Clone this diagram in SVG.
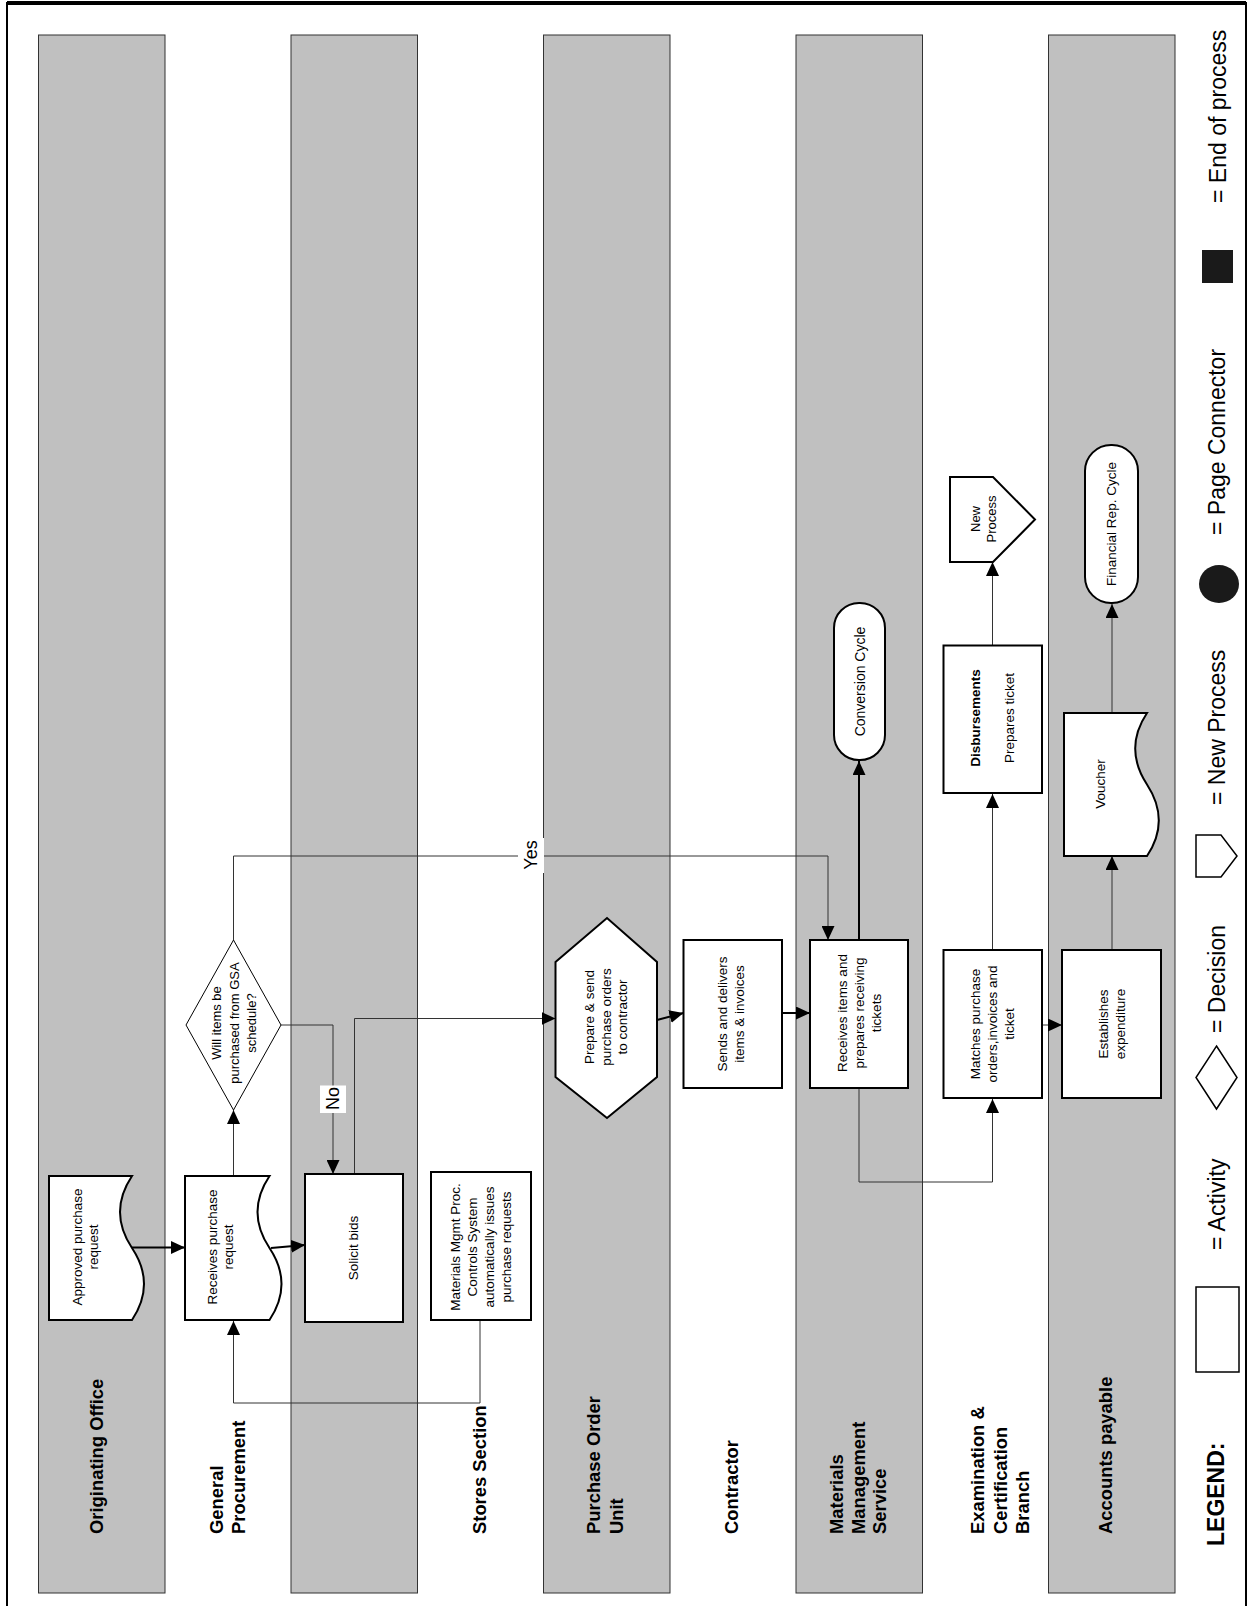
<svg xmlns="http://www.w3.org/2000/svg" width="1249" height="1606" viewBox="0 0 1249 1606">
<defs>
<style>
.band{fill:#c0c0c0;stroke:#333;stroke-width:1}
.box{fill:#fff;stroke:#000;stroke-width:2}
.t{font-family:"Liberation Sans",Arial,sans-serif;font-size:13.5px;fill:#000}
.lab{font-family:"Liberation Sans",Arial,sans-serif;font-size:18.4px;font-weight:bold;fill:#000}
.leg{font-family:"Liberation Sans",Arial,sans-serif;font-size:23px;fill:#000}
.c1{fill:none;stroke:#333;stroke-width:1}
.c2{fill:none;stroke:#000;stroke-width:2}
.lbl{font-family:"Liberation Sans",Arial,sans-serif;font-size:18px;fill:#000}
</style>
<marker id="ah" viewBox="0 0 14 13" refX="14" refY="6.5" markerWidth="14" markerHeight="13" markerUnits="userSpaceOnUse" orient="auto">
<path d="M0,0 L14,6.5 L0,13 Z" fill="#000"/>
</marker>
</defs>
<rect x="0" y="0" width="1249" height="1606" fill="#fff"/>
<g id="border">
<path d="M7,1606 V3 H1246 V1606" fill="none" stroke="#000" stroke-width="2"/>
<line x1="7" y1="3" x2="1246" y2="3" stroke="#000" stroke-width="4"/>
</g>
<g id="lanes">
<rect class="band" x="38.5" y="35" width="126.5" height="1558"/>
<rect class="band" x="291" y="35" width="126.5" height="1558"/>
<rect class="band" x="543.5" y="35" width="126.5" height="1558"/>
<rect class="band" x="796" y="35" width="126.5" height="1558"/>
<rect class="band" x="1048.5" y="35" width="126.5" height="1558"/>
</g>
<g id="lane-labels" class="lab">
<text transform="translate(102.5,1534) rotate(-90)">Originating Office</text>
<text transform="translate(223,1534) rotate(-90)"><tspan x="0" y="0">General</tspan><tspan x="0" y="22">Procurement</tspan></text>
<text transform="translate(486,1534) rotate(-90)">Stores Section</text>
<text transform="translate(600,1534) rotate(-90)"><tspan x="0" y="0">Purchase Order</tspan><tspan x="0" y="22.5">Unit</tspan></text>
<text transform="translate(737.5,1534) rotate(-90)">Contractor</text>
<text transform="translate(843,1534) rotate(-90)"><tspan x="0" y="0">Materials</tspan><tspan x="0" y="21.5">Management</tspan><tspan x="0" y="43">Service</tspan></text>
<text transform="translate(984,1534) rotate(-90)"><tspan x="0" y="0">Examination &amp;</tspan><tspan x="0" y="22.5">Certification</tspan><tspan x="0" y="45">Branch</tspan></text>
<text transform="translate(1112,1534) rotate(-90)">Accounts payable</text>
</g>
<g id="connectors">
<line class="c2" x1="132" y1="1247.5" x2="185" y2="1247.5" marker-end="url(#ah)"/>
<line class="c2" x1="271" y1="1248" x2="305" y2="1245" marker-end="url(#ah)"/>
<line class="c1" x1="233.5" y1="1176" x2="233.5" y2="1110" marker-end="url(#ah)"/>
<polyline class="c1" points="480,1320 480,1403 233.5,1403 233.5,1321" marker-end="url(#ah)"/>
<polyline class="c1" points="281,1025 333,1025 333,1174" marker-end="url(#ah)"/>
<polyline class="c1" points="233.5,940 233.5,856 828,856 828,940" marker-end="url(#ah)"/>
<polyline class="c1" points="354.5,1174 354.5,1018.5 555.5,1018.5" marker-end="url(#ah)"/>
<line class="c2" x1="657" y1="1020" x2="683.5" y2="1013" marker-end="url(#ah)"/>
<line class="c2" x1="782" y1="1013" x2="810" y2="1013" marker-end="url(#ah)"/>
<line class="c2" x1="859" y1="940" x2="859" y2="761" marker-end="url(#ah)"/>
<polyline class="c1" points="859,1088 859,1182 992.5,1182 992.5,1099" marker-end="url(#ah)"/>
<line class="c1" x1="1042" y1="1025" x2="1062" y2="1025" marker-end="url(#ah)"/>
<line class="c1" x1="992.5" y1="950" x2="992.5" y2="794" marker-end="url(#ah)"/>
<line class="c1" x1="992.5" y1="645.5" x2="992.5" y2="562" marker-end="url(#ah)"/>
<line class="c1" x1="1112" y1="950" x2="1112" y2="856" marker-end="url(#ah)"/>
<line class="c1" x1="1112" y1="713" x2="1112" y2="604" marker-end="url(#ah)"/>
<rect x="320" y="1085.5" width="26" height="27.5" fill="#fff"/>
<text class="lbl" transform="translate(333,1098.5) rotate(-90)" text-anchor="middle" dominant-baseline="central">No</text>
<rect x="518" y="838" width="26" height="35" fill="#fff"/>
<text class="lbl" transform="translate(531,855) rotate(-90)" text-anchor="middle" dominant-baseline="central">Yes</text>
</g>
<g id="approved-request">
<path class="box" d="M49,1176 H132 C116,1200 116,1224 132,1248 C148,1272 148,1296 132,1320 H49 Z"/>
<text class="t" transform="translate(85,1247) rotate(-90)" text-anchor="middle" dominant-baseline="central"><tspan x="0" y="-8.25">Approved purchase</tspan><tspan x="0" y="8.25">request</tspan></text>
</g>
<g id="receives-request">
<path class="box" d="M185,1176 H269.5 C253.5,1200 253.5,1224 269.5,1248 C285.5,1272 285.5,1296 269.5,1320 H185 Z"/>
<text class="t" transform="translate(220,1247) rotate(-90)" text-anchor="middle" dominant-baseline="central"><tspan x="0" y="-8.25">Receives purchase</tspan><tspan x="0" y="8.25">request</tspan></text>
</g>
<g id="solicit-bids">
<rect class="box" x="305" y="1174" width="98" height="148"/>
<text class="t" transform="translate(353.5,1248) rotate(-90)" text-anchor="middle" dominant-baseline="central">Solicit bids</text>
</g>
<g id="mmpcs">
<rect class="box" x="431" y="1172" width="100" height="148"/>
<text class="t" transform="translate(480.5,1247) rotate(-90)" text-anchor="middle" dominant-baseline="central"><tspan x="0" y="-25.5">Materials Mgmt Proc.</tspan><tspan x="0" y="-8.5">Controls System</tspan><tspan x="0" y="8.5">automatically issues</tspan><tspan x="0" y="25.5">purchase requests</tspan></text>
</g>
<g id="gsa-decision">
<polygon fill="#fff" stroke="#000" stroke-width="1" points="233.5,940 281,1025 233.5,1110 186,1025"/>
<text class="t" style="font-size:13px" transform="translate(233.5,1023) rotate(-90)" text-anchor="middle" dominant-baseline="central"><tspan x="0" y="-17.5">Will items be</tspan><tspan x="0" y="0">purchased from GSA</tspan><tspan x="0" y="17.5">schedule?</tspan></text>
</g>
<g id="prepare-send">
<polygon class="box" points="555.5,962 607,918 657,962 657,1077 607,1118 555.5,1077"/>
<text class="t" transform="translate(605.5,1017) rotate(-90)" text-anchor="middle" dominant-baseline="central"><tspan x="0" y="-16.5">Prepare &amp; send</tspan><tspan x="0" y="0">purchase orders</tspan><tspan x="0" y="16.5">to contractor</tspan></text>
</g>
<g id="sends-delivers">
<rect class="box" x="683.5" y="940" width="98.5" height="148"/>
<text class="t" transform="translate(730,1014) rotate(-90)" text-anchor="middle" dominant-baseline="central"><tspan x="0" y="-8.5">Sends and delivers</tspan><tspan x="0" y="8.5">items &amp; invoices</tspan></text>
</g>
<g id="receives-items">
<rect class="box" x="810" y="940" width="98" height="148"/>
<text class="t" transform="translate(859,1013) rotate(-90)" text-anchor="middle" dominant-baseline="central"><tspan x="0" y="-17">Receives items and</tspan><tspan x="0" y="0">prepares receiving</tspan><tspan x="0" y="17">tickets</tspan></text>
</g>
<g id="conversion-cycle">
<rect class="box" x="834" y="603" width="51" height="157" rx="25" ry="25"/>
<text class="t" style="font-size:14px" transform="translate(859.5,681.5) rotate(-90)" text-anchor="middle" dominant-baseline="central">Conversion Cycle</text>
</g>
<g id="matches">
<rect class="box" x="943.5" y="950" width="98.5" height="148"/>
<text class="t" transform="translate(991.5,1024) rotate(-90)" text-anchor="middle" dominant-baseline="central"><tspan x="0" y="-17">Matches purchase</tspan><tspan x="0" y="0">orders,invoices and</tspan><tspan x="0" y="17">ticket</tspan></text>
</g>
<g id="disbursements">
<rect class="box" x="943.5" y="645.5" width="98.5" height="147.5"/>
<text class="t" transform="translate(975,718) rotate(-90)" text-anchor="middle" dominant-baseline="central" font-weight="bold">Disbursements</text>
<text class="t" transform="translate(1009,718) rotate(-90)" text-anchor="middle" dominant-baseline="central">Prepares ticket</text>
</g>
<g id="new-process">
<polygon class="box" points="950,477 993,477 1035,519.5 993,562 950,562"/>
<text class="t" style="font-size:13px" transform="translate(983,519) rotate(-90)" text-anchor="middle" dominant-baseline="central"><tspan x="0" y="-8">New</tspan><tspan x="0" y="8">Process</tspan></text>
</g>
<g id="establishes">
<rect class="box" x="1062" y="950" width="99" height="148"/>
<text class="t" transform="translate(1111.5,1024) rotate(-90)" text-anchor="middle" dominant-baseline="central"><tspan x="0" y="-8.5">Establishes</tspan><tspan x="0" y="8.5">expenditure</tspan></text>
</g>
<g id="voucher">
<path class="box" d="M1064,713 H1147 C1131,737 1131,760 1147,784.5 C1163,809 1163,832 1147,856 H1064 Z"/>
<text class="t" transform="translate(1100,784) rotate(-90)" text-anchor="middle" dominant-baseline="central">Voucher</text>
</g>
<g id="financial-cycle">
<rect class="box" x="1085" y="445" width="53" height="158" rx="26" ry="26"/>
<text class="t" transform="translate(1111.5,524) rotate(-90)" text-anchor="middle" dominant-baseline="central">Financial Rep. Cycle</text>
</g>
<g id="legend">
<text class="leg" font-weight="bold" transform="translate(1224,1546) rotate(-90)">LEGEND:</text>
<rect x="1196" y="1287" width="43" height="85" fill="#fff" stroke="#000" stroke-width="1.5"/>
<text class="leg" transform="translate(1225,1250) rotate(-90)">= Activity</text>
<polygon points="1216.5,1046 1237,1077.5 1216.5,1109 1196,1077.5" fill="#fff" stroke="#000" stroke-width="1.5"/>
<text class="leg" transform="translate(1225,1033) rotate(-90)">= Decision</text>
<polygon points="1196,835 1221,835 1237,856 1221,877 1196,877" fill="#fff" stroke="#000" stroke-width="1.5"/>
<text class="leg" transform="translate(1225,805) rotate(-90)">= New Process</text>
<ellipse cx="1219" cy="584" rx="20" ry="19" fill="#1a1a1a"/>
<text class="leg" transform="translate(1225,535) rotate(-90)">= Page Connector</text>
<rect x="1202" y="250" width="31" height="33" fill="#1a1a1a"/>
<text class="leg" transform="translate(1226,203) rotate(-90)">= End of process</text>
</g>
</svg>
